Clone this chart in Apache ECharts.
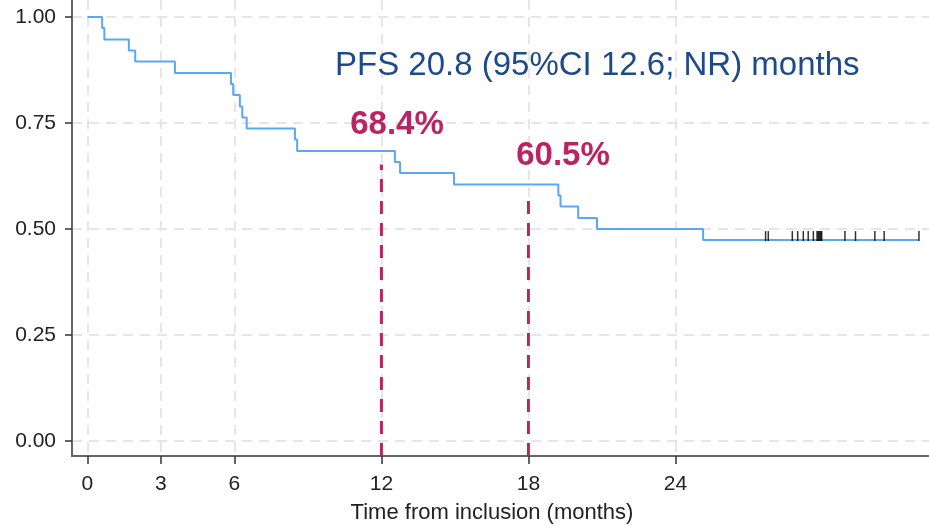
<!DOCTYPE html>
<html>
<head>
<meta charset="utf-8">
<script src="https://cdn.jsdelivr.net/npm/echarts@6/dist/echarts.min.js"></script>
<style>
  html, body { margin: 0; padding: 0; background: #ffffff; }
  #chart { width: 929px; height: 526px; }
</style>
</head>
<body>
<div id="chart"></div>
<script>
// Kaplan–Meier progression-free survival, time in months
const eventTimes = [0.60, 0.69, 1.69, 1.95, 3.57, 5.86, 5.95, 6.22, 6.32, 6.50,
                    8.47, 8.56, 12.55, 12.76, 14.96, 19.22, 19.31, 20.03, 20.8, 25.13];
const eventSurvival = [0.974, 0.947, 0.921, 0.895, 0.868, 0.842, 0.816, 0.789, 0.763, 0.737,
                       0.711, 0.684, 0.658, 0.632, 0.605, 0.579, 0.553, 0.526, 0.500, 0.474];
const censorTimes = [27.68, 27.79, 28.77, 28.99, 29.22, 29.42, 29.63, 29.78, 29.82, 29.86,
                     29.90, 29.94, 29.97, 30.92, 31.35, 32.14, 32.52, 33.94];
const censorSurvival = [0.474, 0.474, 0.474, 0.474, 0.474, 0.474, 0.474, 0.474, 0.474, 0.474,
                        0.474, 0.474, 0.474, 0.474, 0.474, 0.474, 0.474, 0.474];
const xTicks = [0, 3, 6, 12, 18, 24];
const yTicks = [0, 0.25, 0.5, 0.75, 1];
const landmarkTimes = [12, 18];
const landmarkSurvival = [0.684, 0.605];
const medianText = 'PFS 20.8 (95%CI 12.6; NR) months';
const xTitle = 'Time from inclusion (months)';

const X_MIN = -0.63, X_MAX = 34.35, Y_MIN = -0.035, Y_MAX = 1.04;
const BLUE = '#5aa7f5', MAGENTA = '#bb2463', TITLE_BLUE = '#1f4a8a', GRID = '#e6e6e6', AXIS = '#666666';
const FONT = '"Liberation Sans", Arial, sans-serif';

// step curve: start at 1, drop at each event, continue flat to last follow-up
const curve = [[0, 1]];
eventTimes.forEach((t, i) => curve.push([t, eventSurvival[i]]));
curve.push([censorTimes[censorTimes.length - 1], eventSurvival[eventSurvival.length - 1]]);

const censorData = censorTimes.map((t, i) => [t, censorSurvival[i]]);

// dashed landmark drop lines stop a little below the curve
const LANDMARK_GAP = 0.032;
const landmarkSeries = landmarkTimes.map((t, i) => ({
  type: 'line',
  data: [[t, Y_MIN], [t, landmarkSurvival[i] - LANDMARK_GAP]],
  symbol: 'none',
  silent: true,
  z: 3,
  lineStyle: { color: MAGENTA, width: 3, type: [13, 9] }
}));

const chart = echarts.init(document.getElementById('chart'), null, { renderer: 'canvas' });

const gridLine = { show: true, lineStyle: { color: GRID, width: 2, type: [10, 7] } };

chart.setOption({
  animation: false,
  backgroundColor: '#ffffff',
  grid: { left: 72, right: 0, top: 0, bottom: 70, containLabel: false },
  xAxis: {
    type: 'value', min: X_MIN, max: X_MAX,
    axisLine: { show: true, onZero: false, lineStyle: { color: AXIS, width: 2 } },
    axisTick: { show: true, customValues: xTicks, length: 8, lineStyle: { color: '#333', width: 1.5 } },
    axisLabel: { customValues: xTicks, margin: 18, color: '#222', fontFamily: FONT, fontSize: 21 },
    splitLine: gridLine
  },
  yAxis: {
    type: 'value', min: Y_MIN, max: Y_MAX,
    axisLine: { show: true, onZero: false, lineStyle: { color: AXIS, width: 2 } },
    axisTick: { show: true, customValues: yTicks, length: 7, lineStyle: { color: '#333', width: 1.5 } },
    axisLabel: { customValues: yTicks, margin: 16, color: '#222', fontFamily: FONT, fontSize: 21,
                 formatter: v => v.toFixed(2) },
    splitLine: gridLine
  },
  series: [
    {
      type: 'line', data: curve, step: 'end', symbol: 'none', z: 4,
      lineStyle: { color: BLUE, width: 2 }
    },
    {
      type: 'scatter', data: censorData, symbol: 'rect', symbolSize: [1.5, 10],
      symbolOffset: [0, -4], z: 5, itemStyle: { color: '#000000' }
    },
    ...landmarkSeries
  ],
  graphic: [
    { type: 'text', x: 335, y: 66, z: 100,
      style: { text: medianText, fill: TITLE_BLUE, font: '33px ' + FONT, textVerticalAlign: 'middle' } },
    { type: 'text', x: 397, y: 125, z: 100,
      style: { text: (landmarkSurvival[0] * 100).toFixed(1) + '%', fill: MAGENTA,
               font: 'bold 33px ' + FONT, textAlign: 'center', textVerticalAlign: 'middle' } },
    { type: 'text', x: 563, y: 156, z: 100,
      style: { text: (landmarkSurvival[1] * 100).toFixed(1) + '%', fill: MAGENTA,
               font: 'bold 33px ' + FONT, textAlign: 'center', textVerticalAlign: 'middle' } },
    { type: 'text', x: 492, y: 513, z: 100,
      style: { text: xTitle, fill: '#222', font: '22px ' + FONT,
               textAlign: 'center', textVerticalAlign: 'middle' } }
  ]
});
</script>
</body>
</html>
